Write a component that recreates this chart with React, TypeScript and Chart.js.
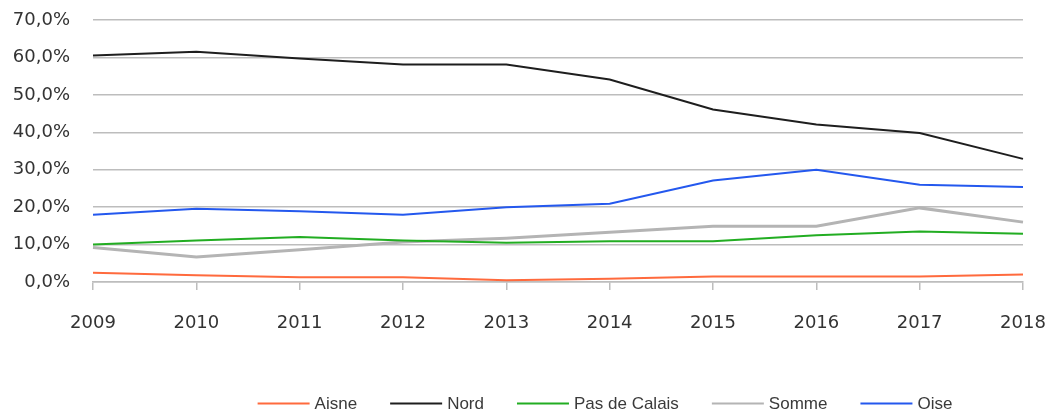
import React, { useEffect, useRef } from 'react';
import { Chart, registerables } from 'chart.js';

Chart.register(...registerables);

const years = ['2009', '2010', '2011', '2012', '2013', '2014', '2015', '2016', '2017', '2018'];
const seriesNames = ['Aisne', 'Nord', 'Pas de Calais', 'Somme', 'Oise'];
const aisne = [2.5, 1.8, 1.3, 1.3, 0.45, 0.9, 1.5, 1.5, 1.5, 2.0];
const nord = [60.5, 61.5, 59.7, 58.1, 58.1, 54.1, 46.1, 42.1, 39.8, 32.9];
const pasDeCalais = [10.0, 11.1, 12.0, 11.1, 10.5, 10.9, 10.9, 12.5, 13.5, 12.9];
const somme = [9.2, 6.7, 8.6, 10.7, 11.7, 13.3, 14.9, 14.9, 19.8, 16.0];
const oise = [18.0, 19.6, 18.9, 18.0, 20.0, 20.9, 27.1, 30.0, 26.0, 25.4];
const yMin = 0;
const yMax = 70;
const yStep = 10;

const colors = ['#ff6a3d', '#1e1e1e', '#22ad22', '#b4b4b4', '#2458ee'];
const widths = [2, 2, 2, 3, 2];

const legendPlugin = {
  id: 'bottomLegend',
  afterDraw(chart: any) {
    const ctx = chart.ctx as CanvasRenderingContext2D;
    ctx.save();
    ctx.font = '17px "Liberation Sans", sans-serif';
    ctx.textBaseline = 'middle';
    ctx.textAlign = 'left';
    const lineW = 52;
    const gapText = 5;
    const gapItem = 33;
    const items = chart.data.datasets.map((ds: any) => ({
      label: ds.label,
      color: ds.borderColor,
      w: ctx.measureText(ds.label).width,
    }));
    const total =
      items.reduce((s: number, it: any) => s + lineW + gapText + it.w, 0) + gapItem * (items.length - 1);
    let x = 605 - total / 2;
    const y = 403.5;
    for (const it of items) {
      ctx.strokeStyle = it.color;
      ctx.lineWidth = 2;
      ctx.beginPath();
      ctx.moveTo(x, y);
      ctx.lineTo(x + lineW, y);
      ctx.stroke();
      ctx.fillStyle = '#3a3a3a';
      ctx.fillText(it.label, x + lineW + gapText, y + 1);
      x += lineW + gapText + it.w + gapItem;
    }
    ctx.restore();
  },
};

export default function App() {
  const canvasRef = useRef<HTMLCanvasElement | null>(null);

  useEffect(() => {
    document.body.style.margin = '0';
    document.body.style.overflow = 'hidden';
    const canvas = canvasRef.current;
    if (!canvas) return;
    const values = [aisne, nord, pasDeCalais, somme, oise];
    const chart = new Chart(canvas, {
      type: 'line',
      data: {
        labels: years,
        datasets: seriesNames.map((name, i) => ({
          label: name,
          data: values[i],
          borderColor: colors[i],
          backgroundColor: colors[i],
          borderWidth: widths[i],
          pointRadius: 0,
          tension: 0,
          fill: false,
        })),
      },
      options: {
        animation: false,
        responsive: false,
        maintainAspectRatio: false,
        layout: { padding: { top: 20, bottom: 78, left: 0, right: 25 } },
        plugins: {
          legend: { display: false },
          tooltip: { enabled: false },
        },
        scales: {
          x: {
            offset: false,
            afterFit: (scale: any) => {
              scale.height = 53;
              scale.paddingLeft = 0;
              scale.paddingRight = 0;
            },
            grid: {
              drawOnChartArea: false,
              drawTicks: true,
              tickLength: 8,
              color: '#bdbdbd',
              lineWidth: 1.5,
            },
            border: { display: true, color: '#bdbdbd', width: 1.5 },
            ticks: {
              padding: 23,
              color: '#333333',
              font: { family: '"DejaVu Sans", sans-serif', size: 18 },
              maxRotation: 0,
              autoSkip: false,
            },
          },
          y: {
            min: yMin,
            max: yMax,
            afterFit: (scale: any) => {
              scale.width = 93;
              scale.paddingTop = 0;
              scale.paddingBottom = 0;
            },
            grid: {
              drawTicks: false,
              color: '#bdbdbd',
              lineWidth: 1.5,
            },
            border: { display: false },
            ticks: {
              stepSize: yStep,
              padding: 23,
              color: '#333333',
              font: { family: '"DejaVu Sans", sans-serif', size: 18 },
              callback: (v: any) => Number(v).toFixed(1).replace('.', ',') + '%',
            },
          },
        },
      },
      plugins: [legendPlugin],
    });
    return () => chart.destroy();
  }, []);

  return (
    <div style={{ width: 1048, height: 413 }}>
      <canvas ref={canvasRef} width={1048} height={413} style={{ display: 'block' }} />
    </div>
  );
}
